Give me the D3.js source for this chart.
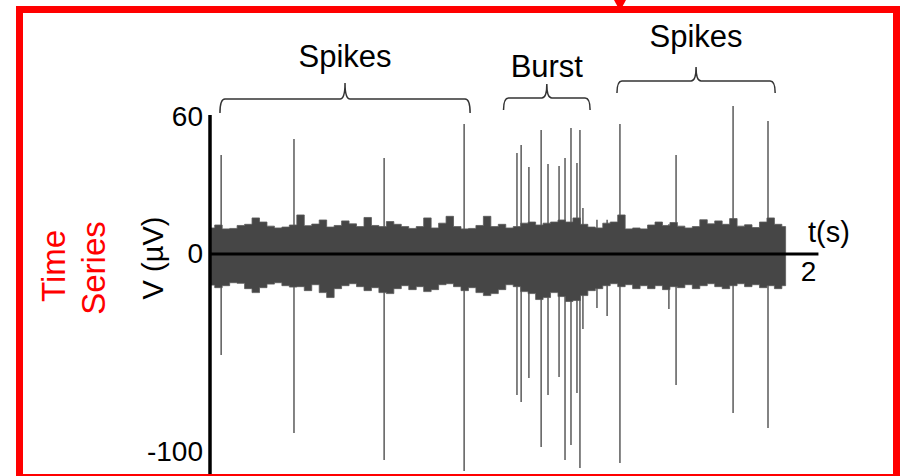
<!DOCTYPE html>
<html>
<head>
<meta charset="utf-8">
<script src="https://cdn.jsdelivr.net/npm/d3@7"></script>
<style>
  body { margin: 0; background: #fff; }
  svg { display: block; font-family: Arial, "Liberation Sans", sans-serif; }
</style>
</head>
<body>
<div id="chart"></div>
<script>
// Spikes: time (s), positive peak and negative peak (µV)
const spikeTimes   = [0.034, 0.278, 0.580, 0.848, 1.025, 1.039, 1.065, 1.106, 1.129, 1.166, 1.186, 1.206, 1.226, 1.236, 1.246, 1.293, 1.327, 1.370, 1.534, 1.558, 1.749, 1.866]
const spikeTops    = [43.4, 50.4, 42.0, 56.9, 44.2, 47.7, 38.1, 54.3, 39.4, 38.5, 42.0, 55.2, 39.9, 54.3, 20.1, 15.0, 15.0, 56.9, 13.0, 43.4, 64.8, 58.3]
const spikeBottoms = [-51.0, -90.4, -104.0, -109.6, -71.2, -74.7, -62.6, -97.5, -71.2, -62.1, -104.0, -96.5, -70.2, -108.1, -37.9, -27.3, -31.3, -105.6, -27.8, -66.2, -80.3, -87.9]

// Background noise envelope, one sample every 0.025 s (µV)
const noiseStep = 0.025
const noiseUpper = [11.4, 12.7, 11.0, 11.2, 12.5, 13.0, 15.8, 14.0, 12.2, 11.4,
  11.8, 12.7, 17.1, 12.4, 13.1, 14.9, 11.8, 12.5, 14.5, 13.2,
  12.0, 16.0, 12.5, 12.0, 14.2, 13.0, 12.0, 11.2, 12.0, 15.8,
  11.4, 13.5, 16.5, 12.0, 11.0, 11.2, 12.5, 16.5, 12.0, 13.0,
  11.4, 12.0, 13.5, 14.0, 12.7, 13.5, 14.0, 14.9, 14.0, 15.8,
  13.0, 11.8, 11.4, 13.5, 14.0, 17.1, 11.0, 11.4, 11.0, 12.7,
  14.0, 12.5, 13.8, 12.2, 11.4, 12.0, 15.0, 13.2, 14.5, 13.0,
  15.5, 12.2, 12.8, 11.6, 14.0, 15.8, 13.0, 12.0]
const noiseLower = [-15.7, -17.0, -16.0, -14.5, -14.8, -17.5, -19.5, -17.0, -15.2, -14.5,
  -16.0, -16.7, -16.5, -18.5, -15.5, -19.5, -22.0, -17.5, -16.0, -15.0,
  -16.5, -18.5, -17.0, -19.5, -20.0, -17.5, -16.0, -18.0, -16.5, -19.0,
  -18.0, -15.5, -15.0, -16.5, -18.5, -17.0, -19.5, -21.0, -20.0, -18.0,
  -15.5, -16.5, -19.0, -20.0, -23.0, -22.0, -19.5, -21.5, -24.0, -23.5,
  -21.0, -18.5, -17.5, -16.0, -15.0, -16.5, -15.5, -17.5, -16.0, -17.5,
  -16.0, -18.0, -16.5, -17.0, -15.5, -17.5, -16.0, -15.0, -16.5, -17.5,
  -16.0, -15.0, -16.5, -15.5, -17.0, -16.0, -17.5, -16.0]

// Axis ticks
const yTicks = [-100, 0, 60]
const xTicks = [2]

// Annotations (time ranges in s)
const braceLabels = ["Spikes", "Burst", "Spikes"]
const braceStart = [0.030, 0.980, 1.360]
const braceEnd = [0.868, 1.270, 1.890]

;(function () {

  const width = 901
  const height = 476

  const svg = d3.select("#chart").append("svg")
      .attr("width", width)
      .attr("height", height)

  const x = d3.scaleLinear().domain([0, 2]).range([211, 808])
  // the original axis is not evenly spaced above / below zero
  const y = d3.scaleLinear().domain([-100, 0, 60]).range([452, 254, 117])

  const spikes = spikeTimes.map((t, i) => ({ t: t, top: spikeTops[i], bottom: spikeBottoms[i] }))
  const noise = noiseUpper.map((v, i) => ({ t: i * noiseStep, hi: v, lo: noiseLower[i] }))

  // Spikes
  svg.append("g").selectAll("line")
    .data(spikes)
    .join("line")
      .attr("x1", d => x(d.t))
      .attr("x2", d => x(d.t))
      .attr("y1", d => y(d.top))
      .attr("y2", d => y(d.bottom))
      .attr("stroke", "#5a5a5a")
      .attr("stroke-width", 1.5)

  // Noise band
  const area = d3.area()
    .x(d => x(d.t))
    .y0(d => y(d.lo))
    .y1(d => y(d.hi))
    .curve(d3.curveStep)

  svg.append("path")
    .datum(noise)
    .attr("d", area)
    .attr("fill", "#464646")
    .attr("stroke", "#5a5a5a")
    .attr("stroke-width", 0.8)

  // Y axis
  const yAxis = svg.append("g")
    .attr("transform", "translate(" + x(0) + ",0)")
    .call(d3.axisLeft(y).tickValues(yTicks).tickSize(0).tickPadding(8).tickFormat(d => String(d)))
  yAxis.select(".domain").remove()
  yAxis.selectAll("text").attr("font-size", 28).attr("fill", "#000").attr("font-family", "Arial, 'Liberation Sans', sans-serif")

  svg.append("line")
    .attr("x1", x(0) - 1).attr("x2", x(0) - 1)
    .attr("y1", y(60) - 2).attr("y2", height)
    .attr("stroke", "#000")
    .attr("stroke-width", 3.5)

  // X axis
  const xAxis = svg.append("g")
    .attr("transform", "translate(0," + y(0) + ")")
    .call(d3.axisBottom(x).tickValues(xTicks).tickSize(0).tickPadding(7).tickFormat(d => String(d)))
  xAxis.select(".domain").remove()
  xAxis.selectAll("text").attr("font-size", 28).attr("fill", "#000").attr("font-family", "Arial, 'Liberation Sans', sans-serif")

  svg.append("line")
    .attr("x1", x(0) - 1).attr("x2", x(2.035))
    .attr("y1", y(0)).attr("y2", y(0))
    .attr("stroke", "#000")
    .attr("stroke-width", 3)

  svg.append("text")
    .attr("x", 829).attr("y", 242)
    .attr("text-anchor", "middle")
    .attr("font-size", 29)
    .text("t(s)")

  svg.append("text")
    .attr("transform", "translate(163,258) rotate(-90)")
    .attr("text-anchor", "middle")
    .attr("font-size", 29)
    .text("V (µV)")

  // Row label
  svg.append("text")
    .attr("transform", "translate(65,266) rotate(-90)")
    .attr("text-anchor", "middle")
    .attr("font-size", 33)
    .attr("fill", "#ff0000")
    .text("Time")
  svg.append("text")
    .attr("transform", "translate(105,268) rotate(-90)")
    .attr("text-anchor", "middle")
    .attr("font-size", 33)
    .attr("fill", "#ff0000")
    .text("Series")

  // Braces
  const braceLine = [99, 98, 81]
  const braceDrop = [14, 12, 12]
  const braceTip = [83, 84, 67]
  const labelBase = [67, 77, 47]

  function bracePath(x0, x1, yh, drop, tip) {
    const xm = (x0 + x1) / 2
    const r = 5
    return "M" + x0 + "," + (yh + drop) +
      "Q" + x0 + "," + yh + " " + (x0 + r) + "," + yh +
      "L" + (xm - r) + "," + yh +
      "Q" + xm + "," + yh + " " + xm + "," + tip +
      "Q" + xm + "," + yh + " " + (xm + r) + "," + yh +
      "L" + (x1 - r) + "," + yh +
      "Q" + x1 + "," + yh + " " + x1 + "," + (yh + drop)
  }

  const braces = svg.append("g").selectAll("g")
    .data(braceLabels.map((l, i) => ({ label: l, t0: braceStart[i], t1: braceEnd[i], i: i })))
    .join("g")

  braces.append("path")
    .attr("d", d => bracePath(x(d.t0), x(d.t1), braceLine[d.i], braceDrop[d.i], braceTip[d.i]))
    .attr("fill", "none")
    .attr("stroke", "#333")
    .attr("stroke-width", 1.5)

  braces.append("text")
    .attr("x", d => (x(d.t0) + x(d.t1)) / 2)
    .attr("y", d => labelBase[d.i])
    .attr("text-anchor", "middle")
    .attr("font-size", 31)
    .attr("fill", "#000")
    .text(d => d.label)

  // Red frame and arrow
  svg.append("rect")
    .attr("x", 19.5).attr("y", 9.5)
    .attr("width", 877).attr("height", 468)
    .attr("fill", "none")
    .attr("stroke", "#ff0000")
    .attr("stroke-width", 7)

  svg.append("path")
    .attr("d", "M614,0L626,0L620,11Z")
    .attr("fill", "#ff0000")

})()
</script>
</body>
</html>
